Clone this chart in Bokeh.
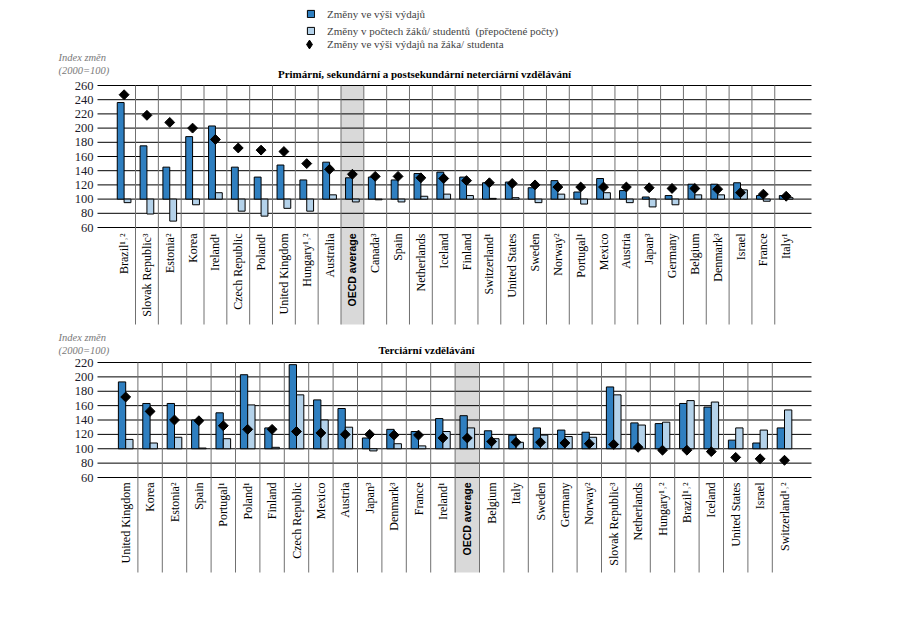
import numpy as np
from bokeh.plotting import figure
from bokeh.models import (ColumnDataSource, Range1d, Label, Legend, LegendItem)
from bokeh.layouts import column
from bokeh.embed import file_html
from bokeh.resources import INLINE

# ---------------- data ----------------
cats_top = ["Brazil¹˒²", "Slovak Republic³", "Estonia²", "Korea", "Ireland¹", "Czech Republic",
            "Poland¹", "United Kingdom", "Hungary¹˒²", "Australia", "OECD average", "Canada³",
            "Spain", "Netherlands", "Iceland", "Finland", "Switzerland¹", "United States",
            "Sweden", "Norway²", "Portugal¹", "Mexico", "Austria", "Japan³", "Germany",
            "Belgium", "Denmark³", "Israel", "France", "Italy¹"]
exp_top = [236, 175, 145, 188, 203, 145, 131, 148, 127, 152, 130, 131, 127, 136, 138,
           131, 123, 124, 116, 126, 110, 129, 112, 103, 105, 121, 121, 123, 105, 105]
stud_top = [95, 79, 69, 92, 109, 83, 76, 87, 83, 106, 96, 99, 96, 104, 107,
            105, 101, 102, 95, 107, 93, 109, 95, 89, 92, 106, 106, 113, 97, 102]
per_top = [247, 218, 208, 200, 184, 172, 169, 167, 150, 142, 135, 132, 132, 130, 129,
           126, 123, 122, 120, 117, 117, 117, 117, 116, 115, 115, 114, 109, 107, 104]

cats_bot = ["United Kingdom", "Korea", "Estonia²", "Spain", "Portugal¹", "Poland¹", "Finland",
            "Czech Republic", "Mexico", "Austria", "Japan³", "Denmark³", "France", "Ireland¹",
            "OECD average", "Belgium", "Italy", "Sweden", "Germany", "Norway²",
            "Slovak Republic³", "Netherlands", "Hungary¹˒²", "Brazil¹˒²", "Iceland",
            "United States", "Israel", "Switzerland¹˒²"]
exp_bot = [193, 163, 163, 140, 150, 203, 129, 217, 168, 156, 115, 127, 124, 142, 146,
           125, 119, 129, 126, 123, 186, 136, 135, 163, 158, 112, 108, 129]
stud_bot = [113, 108, 116, 101, 114, 161, 102, 175, 140, 130, 97, 107, 104, 124, 129,
            114, 109, 119, 117, 116, 175, 133, 137, 167, 165, 129, 126, 154]
per_bot = [172, 152, 140, 139, 132, 127, 127, 124, 122, 120, 120, 119, 119, 115, 115,
           110, 109, 109, 108, 107, 106, 102, 98, 98, 96, 88, 86, 84]

ticks_top = [60, 80, 100, 120, 140, 160, 180, 200, 220, 240, 260]
ticks_bot = [60, 80, 100, 120, 140, 160, 180, 200, 220]

title_top = "Primární, sekundární a postsekundární neterciární vzdělávání"
title_bot = "Terciární vzdělávání"
axis_title = ["Index změn", "(2000=100)"]
legend_labels = ["Změny ve výši výdajů",
                 "Změny v počtech žáků/ studentů  (přepočtené počty)",
                 "Změny ve výši výdajů na žáka/ studenta"]

DARK = "#2f7fc0"
LIGHT = "#b4d2ea"
SERIF = "Liberation Serif"
FW = 820  # frame width (px)


def panel(cats, exp, stud, per, ticks, fh, top_px, bot_px, c0_px, cw, sep_px, lab_px):
    """top_px/bot_px: pixel rows (from figure top) of max tick and min tick."""
    n = len(cats)
    xs = np.arange(n)
    lo, hi = min(ticks), max(ticks)
    ppu = (bot_px - top_px) / (hi - lo)
    y_end = hi + top_px / ppu
    y_start = lo - (fh - bot_px) / ppu
    x_start = -c0_px / cw
    x_end = (FW - c0_px) / cw
    gx0 = (97 - c0_px) / cw
    gx1 = (811 - c0_px) / cw
    tx = (93 - c0_px) / cw
    sep_bot = lo - (sep_px - bot_px) / ppu
    lab_top = lo - (lab_px - bot_px) / ppu

    p = figure(frame_width=FW, frame_height=fh, min_border=0,
               x_range=Range1d(x_start, x_end), y_range=Range1d(y_start, y_end),
               output_backend="svg", toolbar_location=None,
               x_axis_location=None, y_axis_location=None)
    p.outline_line_color = None
    p.xgrid.visible = False
    p.ygrid.visible = False

    oecd = cats.index("OECD average")
    p.quad(left=[oecd - 0.5], right=[oecd + 0.5], bottom=[sep_bot], top=[hi],
           fill_color="#d9d9d9", line_color=None)
    # horizontal grid lines
    p.segment(x0=[gx0] * len(ticks), x1=[gx1] * len(ticks), y0=ticks, y1=ticks,
              line_color="black", line_width=1)
    # tick labels
    p.text(x=[tx] * len(ticks), y=ticks, text=[str(t) for t in ticks], text_align="right",
           text_baseline="middle", text_font=dict(value=SERIF), text_font_size="12.5px",
           text_color="#1a1a2a")
    # column separators
    seps = xs[:-1] + 0.5
    p.segment(x0=seps, x1=seps, y0=[sep_bot] * len(seps), y1=[hi] * len(seps),
              line_color="#707070", line_width=1)

    src = ColumnDataSource(dict(x=xs, per=per))
    r_exp = p.vbar(x=xs - 0.15, width=0.3, bottom=100, top=exp, fill_color=DARK,
                   line_color="black", line_width=1)
    r_stud = p.vbar(x=xs + 0.15, width=0.3, bottom=100, top=stud, fill_color=LIGHT,
                    line_color="black", line_width=1)
    p.scatter(x="x", y="per", source=src, marker="square", angle=np.pi / 4,
              size=7, fill_color="black", line_color="black")
    # same points as diamonds, hidden: used only for the legend swatch
    r_leg = p.scatter(x="x", y="per", source=src, marker="diamond", size=10,
                      fill_color="black", line_color="black", visible=False)

    fonts = ["Liberation Sans" if c == "OECD average" else SERIF for c in cats]
    styles = ["bold" if c == "OECD average" else "normal" for c in cats]
    sizes = ["10.5px" if c == "OECD average" else "12px" for c in cats]
    lsrc = ColumnDataSource(dict(x=xs, y=[lab_top] * n, t=cats, f=fonts, s=styles, z=sizes))
    p.text(x="x", y="y", text="t", source=lsrc, angle=np.pi / 2, text_align="right",
           text_baseline="middle", text_font="f", text_font_style="s",
           text_font_size="z", text_color="black")
    return p, r_exp, r_stud, r_leg


def add_labels(p, fh, idx_px, title, title_px, title_cx):
    p.add_layout(Label(x=58, y=fh - idx_px, x_units="screen", y_units="screen",
                       text=axis_title[0], text_font=SERIF, text_font_style="italic",
                       text_font_size="10.5px", text_color="#7a7a7a", text_baseline="middle"))
    p.add_layout(Label(x=58, y=fh - idx_px - 12.5, x_units="screen", y_units="screen",
                       text=axis_title[1], text_font=SERIF, text_font_style="italic",
                       text_font_size="10.5px", text_color="#7a7a7a", text_baseline="middle"))
    p.add_layout(Label(x=title_cx, y=fh - title_px, x_units="screen", y_units="screen",
                       text=title, text_font=SERIF, text_font_style="bold",
                       text_font_size="11px", text_color="black", text_align="center",
                       text_baseline="middle"))


FH1, FH2 = 328, 262
p1, re1, rs1, rl1 = panel(cats_top, exp_top, stud_top, per_top, ticks_top, FH1,
                          85, 227, 123.6, 22.83, 324, 233)
p2, re2, rs2, rl2 = panel(cats_bot, exp_bot, stud_bot, per_bot, ticks_bot, FH2,
                          362 - 328, 477 - 328, 125.2, 24.4, 572 - 328, 482 - 328)
add_labels(p1, FH1, 57, title_top, 73, 424)
add_labels(p2, FH2, 337 - 328, title_bot, 349 - 328, 426)

leg1 = Legend(items=[LegendItem(label=legend_labels[0], renderers=[re1]),
                     LegendItem(label=legend_labels[1], renderers=[rs1])],
              location=(306, FH1 - 39), orientation="vertical", padding=0, margin=0,
              border_line_color=None, background_fill_alpha=0, glyph_width=9, glyph_height=9,
              label_height=17, label_standoff=12, spacing=0, label_text_font=SERIF,
              label_text_font_size="11px")
leg2 = Legend(items=[LegendItem(label=legend_labels[2], renderers=[rl1])],
              location=(298, FH1 - 55), orientation="vertical", padding=0, margin=0,
              border_line_color=None, background_fill_alpha=0, glyph_width=22,
              glyph_height=22, label_height=17, label_standoff=7, spacing=0,
              label_text_font=SERIF, label_text_font_size="11px",
              inactive_fill_alpha=0)
p1.add_layout(leg1)
p1.add_layout(leg2)

layout = column(p1, p2, spacing=0)
open("out.html", "w").write(file_html(layout, INLINE))
